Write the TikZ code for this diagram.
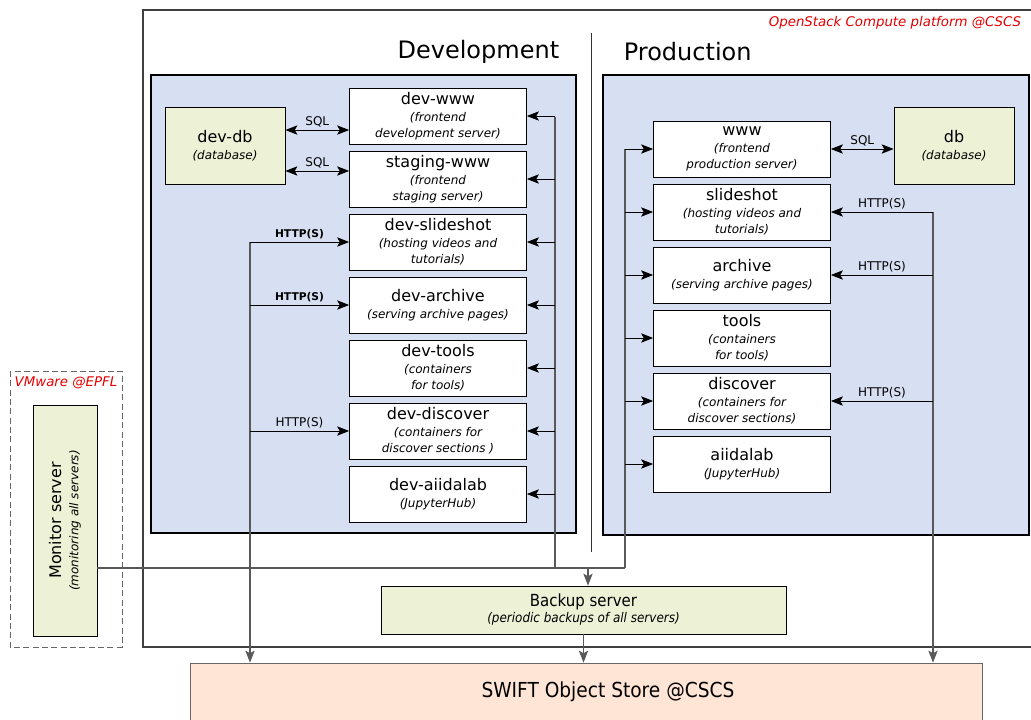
\documentclass[tikz,border=0pt]{standalone}
\usepackage{fontspec}
\setmainfont{DejaVu Sans}
\newfontfamily\condfont{DejaVuSansCondensed.ttf}[ItalicFont=DejaVuSansCondensed-Oblique.ttf,BoldFont=DejaVuSansCondensed-Bold.ttf]
\usepackage{tikz}
\usetikzlibrary{arrows.meta,positioning}

\definecolor{envblue}{RGB}{214,224,242}
\definecolor{dbgreen}{RGB}{237,242,214}
\definecolor{storepeach}{RGB}{255,229,213}
\definecolor{siteRed}{RGB}{228,0,0}

\newcommand{\srv}[2]{{\upshape\fontsize{12}{14}\selectfont #1}\\[1pt]#2}

\begin{document}
\begin{tikzpicture}[->,>={Stealth[length=9pt,width=7pt,inset=2pt]},x=0.75pt,y=-0.75pt,
  node distance=47.25pt,line width=0.6pt,font=\fontsize{9}{12}\selectfont]
  \tikzstyle{server}=[draw,fill=white,align=center,minimum width=132.75pt,minimum height=42pt,inner sep=1pt,
    font=\fontsize{9}{12}\selectfont\itshape]
  \tikzstyle{dbase}=[draw,fill=dbgreen,align=center,minimum width=90pt,minimum height=57.75pt,inner sep=1pt,
    font=\fontsize{9}{12}\selectfont\itshape]
  \tikzstyle{env}=[-,draw,fill=envblue,line width=1.4pt]
  \tikzstyle{bus}=[-,draw=black!65,line width=0.8pt]
  \tikzstyle{lbl}=[above,font=\fontsize{9}{10}\selectfont,inner sep=2pt]
  \tikzstyle{site}=[text=siteRed,font=\fontsize{10}{12}\selectfont\itshape]

  \useasboundingbox (0,0) rectangle (1031,719);

  \draw[-,black!75,line width=0.8pt] (143,10) rectangle (1040,647);
  \node[site,anchor=east] (cscs) at (1026,23) {OpenStack Compute platform @CSCS};
  \draw[-,black!80] (591,33) -- (591,552);
  \node[font=\fontsize{18}{20}\selectfont,anchor=east] (devtitle) at (564,52) {Development};
  \node[font=\fontsize{18}{20}\selectfont,anchor=west] (prodtitle) at (619,52) {Production};

  \draw[env] (151,75) rectangle (576,533);
  \draw[env] (603,75) rectangle (1029,535);

  \node[dbase]  (devdb)    at (225,145.5)         {\srv{dev-db}{(database)}};
  \node[server] (devwww)   at (438,116)           {\srv{dev-www}{(frontend\\development server)}};
  \node[server] (staging)  [below of=devwww]      {\srv{staging-www}{(frontend\\staging server)}};
  \node[server] (devslide) [below of=staging]     {\srv{dev-slideshot}{(hosting videos and\\tutorials)}};
  \node[server] (devarch)  [below of=devslide]    {\srv{dev-archive}{(serving archive pages)}};
  \node[server] (devtools) [below of=devarch]     {\srv{dev-tools}{(containers\\for tools)}};
  \node[server] (devdisc)  [below of=devtools]    {\srv{dev-discover}{(containers for\\discover sections )}};
  \node[server] (devaiida) [below of=devdisc]     {\srv{dev-aiidalab}{(JupyterHub)}};

  \node[server] (www)      at (742,149)           {\srv{www}{(frontend\\production server)}};
  \node[server] (slide)    [below of=www]         {\srv{slideshot}{(hosting videos and\\tutorials)}};
  \node[server] (arch)     [below of=slide]       {\srv{archive}{(serving archive pages)}};
  \node[server] (tools)    [below of=arch]        {\srv{tools}{(containers\\for tools)}};
  \node[server] (disc)     [below of=tools]       {\srv{discover}{(containers for\\discover sections)}};
  \node[server] (aiida)    [below of=disc]        {\srv{aiidalab}{(JupyterHub)}};
  \node[dbase]  (db)       at (954,145.5)         {\srv{db}{(database)}};

  \draw[-,dashed,dash pattern=on 4.5pt off 2.5pt,black!60,line width=0.7pt] (10,371) rectangle (122,647);
  \node[site] (vmware) at (66,383) {VMware @EPFL};
  \node[dbase,rotate=90,minimum width=173.25pt,minimum height=48pt] (monitor) at (65,520.5)
    {\srv{Monitor server}{(monitoring all servers)}};

  \node[dbase,minimum width=303.75pt,minimum height=36pt,font=\condfont\fontsize{10}{12}\selectfont\itshape] (backup) at (583.5,610)
    {{\upshape\fontsize{12.5}{14}\selectfont Backup server}\\(periodic backups of all servers)};
  \node[draw=black!60,fill=storepeach,minimum width=594pt,minimum height=46.5pt] (swift) at (586,694) {};
  \node[font=\condfont\fontsize{15.5}{18}\selectfont] (swiftname) at (608,692) {SWIFT Object Store @CSCS};

  \coordinate (devbus)  at (555,117);
  \coordinate (prodbus) at (625,149);
  \coordinate (devweb)  at (250,242);
  \coordinate (prodweb) at (933,212);
  \coordinate (net)     at (588,568);

  \draw[bus] (devbus) -- (devbus |- net);
  \draw[bus] (prodbus) -- (prodbus |- net);
  \draw[bus] (monitor.south |- net) -- (prodbus |- net);
  \draw[bus,->] (net) -- (net |- backup.north);
  \draw[bus,->] (backup.south) -- (backup.south |- swift.north);
  \draw[bus,->] (devweb) -- (devweb |- swift.north);
  \draw[bus,->] (prodweb) -- (prodweb |- swift.north);

  \path (devbus |- devwww.east)   edge (devwww.east)
        (devbus |- staging.east)  edge (staging.east)
        (devbus |- devslide.east) edge (devslide.east)
        (devbus |- devarch.east)  edge (devarch.east)
        (devbus |- devtools.east) edge (devtools.east)
        (devbus |- devdisc.east)  edge (devdisc.east)
        (devbus |- devaiida.east) edge (devaiida.east)
        (prodbus |- www.west)     edge (www.west)
        (prodbus |- slide.west)   edge (slide.west)
        (prodbus |- arch.west)    edge (arch.west)
        (prodbus |- tools.west)   edge (tools.west)
        (prodbus |- disc.west)    edge (disc.west)
        (prodbus |- aiida.west)   edge (aiida.west);

  \path (devweb)                edge node[lbl,font=\fontsize{8}{10}\selectfont\bfseries] {HTTP(S)} (devslide.west)
        (devweb |- devarch.west) edge node[lbl,font=\fontsize{8}{10}\selectfont\bfseries] {HTTP(S)} (devarch.west)
        (devweb |- devdisc.west) edge node[lbl] {HTTP(S)} (devdisc.west)
        (prodweb)               edge node[lbl] {HTTP(S)} (slide.east)
        (prodweb |- arch.east)  edge node[lbl] {HTTP(S)} (arch.east)
        (prodweb |- disc.east)  edge node[lbl] {HTTP(S)} (disc.east);

  \path[<->] ([yshift=11.6pt]devdb.east) edge node[lbl] {SQL} ([yshift=11.6pt]devdb.east -| devwww.west)
             ([yshift=-19.1pt]devdb.east) edge node[lbl] {SQL} ([yshift=-19.1pt]devdb.east -| staging.west)
             (www.east) edge node[lbl] {SQL} (www.east -| db.west);
\end{tikzpicture}
\end{document}
